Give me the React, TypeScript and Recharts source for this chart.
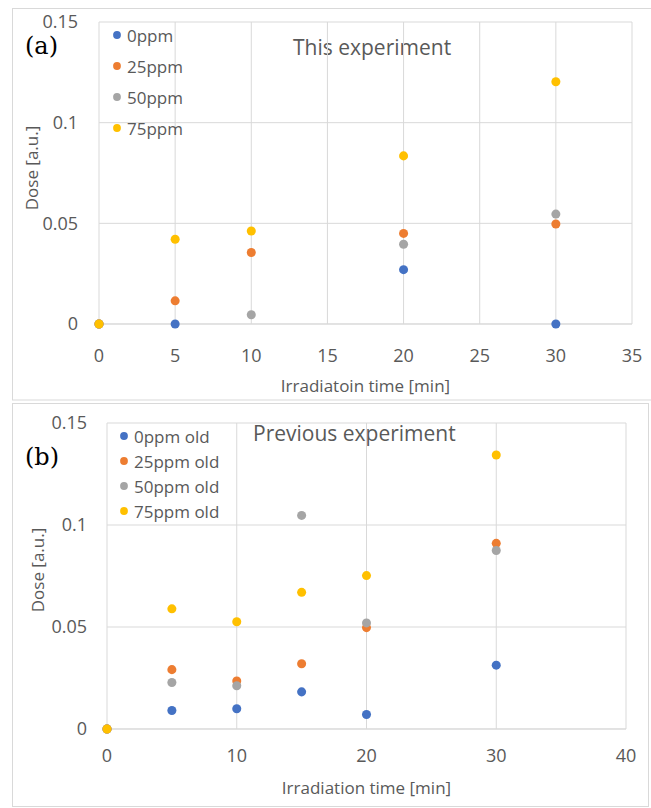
import React from 'react';
import { ScatterChart, Scatter, XAxis, YAxis, CartesianGrid, Legend } from 'recharts';

// Series colours (0, 25, 50, 75 ppm)
const COLORS = ['#4472C4', '#ED7D31', '#A5A5A5', '#FFC000'];
const GRID = '#D9D9D9';
const TEXT = '#595959';
const FONT = '"Open Sans", sans-serif';

// (a) This experiment
const timeA = [0, 5, 10, 20, 30];
const dose0A = [0, 0, null, 0.027, 0];
const dose25A = [0, 0.0115, 0.0355, 0.045, 0.0497];
const dose50A = [0, null, 0.0046, 0.0396, 0.0546];
const dose75A = [0, 0.0421, 0.0462, 0.0835, 0.1203];
const namesA = ['0ppm', '25ppm', '50ppm', '75ppm'];
const xTicksA = [0, 5, 10, 15, 20, 25, 30, 35];

// (b) Previous experiment
const timeB = [0, 5, 10, 15, 20, 30];
const dose0B = [0, 0.0091, 0.0099, 0.0182, 0.0071, 0.0313];
const dose25B = [0, 0.0291, 0.0235, 0.032, 0.0497, 0.091];
const dose50B = [0, 0.0228, 0.0212, 0.1047, 0.052, 0.0875];
const dose75B = [0, 0.0589, 0.0526, 0.067, 0.0752, 0.1343];
const namesB = ['0ppm old', '25ppm old', '50ppm old', '75ppm old'];
const xTicksB = [0, 10, 20, 30, 40];

const yTicks = [0, 0.05, 0.1, 0.15];

type Pt = { x: number; y: number };
const toPoints = (times: number[], doses: (number | null)[]): Pt[] =>
  times.flatMap((t, i) => (doses[i] == null ? [] : [{ x: t, y: doses[i] as number }]));

const seriesA = [dose0A, dose25A, dose50A, dose75A].map((d) => toPoints(timeA, d));
const seriesB = [dose0B, dose25B, dose50B, dose75B].map((d) => toPoints(timeB, d));

const makeLegend = (rowH: number, fontSize: number) => (props: any) => {
  const payload = props.payload || [];
  return (
    <div>
      {payload.map((p: any, i: number) => (
        <div key={i} style={{ display: 'flex', alignItems: 'center', height: rowH }}>
          <svg width={10} height={10} style={{ display: 'block' }}>
            <circle cx={5} cy={5} r={3.9} fill={p.color} />
          </svg>
          <span
            style={{
              marginLeft: 5,
              color: TEXT,
              fontFamily: FONT,
              fontSize,
              lineHeight: 1,
              whiteSpace: 'nowrap',
            }}
          >
            {p.value}
          </span>
        </div>
      ))}
    </div>
  );
};

const yTitle = (dx: number, dy: number) => (props: any) => {
  const vb = props.viewBox || {};
  const cx = vb.x + dx;
  const cy = vb.y + vb.height / 2 + dy;
  return (
    <text
      x={cx}
      y={cy}
      transform={`rotate(-90, ${cx}, ${cy})`}
      textAnchor="middle"
      dominantBaseline="central"
      fill={TEXT}
      fontFamily={FONT}
      fontSize={17}
    >
      Dose [a.u.]
    </text>
  );
};

const xTitle = (text: string, dx: number, baselineFromBottom: number) => (props: any) => {
  const vb = props.viewBox || {};
  return (
    <text
      x={vb.x + vb.width / 2 + dx}
      y={vb.y + vb.height - baselineFromBottom}
      textAnchor="middle"
      fill={TEXT}
      fontFamily={FONT}
      fontSize={17}
    >
      {text}
    </text>
  );
};

type PanelProps = {
  series: Pt[][];
  names: string[];
  xTicks: number[];
  xMax: number;
  height: number;
  margin: { top: number; right: number; bottom: number; left: number };
  yWidth: number;
  xHeight: number;
  yTickMargin: number;
  xTickMargin: number;
  xLabel: string;
  xLabelDx: number;
  xLabelBase: number;
  yLabelDx: number;
  yLabelDy: number;
  legendPos: { left: number; top: number };
  legendRow: number;
};

function Panel(p: PanelProps) {
  return (
    <ScatterChart width={651} height={p.height} margin={p.margin}>
      <CartesianGrid stroke={GRID} strokeWidth={1} />
      <XAxis
        type="number"
        dataKey="x"
        domain={[0, p.xMax]}
        ticks={p.xTicks}
        interval={0}
        tickLine={false}
        tickSize={0}
        tickMargin={p.xTickMargin}
        axisLine={{ stroke: GRID }}
        tick={{ fill: TEXT, fontSize: 18, fontFamily: FONT }}
        height={p.xHeight}
        label={{ content: xTitle(p.xLabel, p.xLabelDx, p.xLabelBase) }}
      />
      <YAxis
        type="number"
        dataKey="y"
        domain={[0, 0.15]}
        ticks={yTicks}
        interval={0}
        tickFormatter={(v: number) => String(v)}
        tickLine={false}
        tickSize={0}
        tickMargin={p.yTickMargin}
        axisLine={false}
        tick={{ fill: TEXT, fontSize: 18, fontFamily: FONT }}
        width={p.yWidth}
        label={{ content: yTitle(p.yLabelDx, p.yLabelDy) }}
      />
      <Legend
        layout="vertical"
        align="center"
        verticalAlign="middle"
        content={makeLegend(p.legendRow, 17)}
        wrapperStyle={{ left: p.legendPos.left, top: p.legendPos.top, width: 'auto', height: 'auto' }}
      />
      {p.series.map((pts, i) => (
        <Scatter
          key={p.names[i]}
          name={p.names[i]}
          data={pts}
          fill={COLORS[i]}
          isAnimationActive={false}
        />
      ))}
    </ScatterChart>
  );
}

export default function App() {
  return (
    <div
      style={{
        position: 'absolute',
        left: 0,
        top: 0,
        width: 651,
        height: 808,
        background: '#fff',
        overflow: 'hidden',
      }}
    >
      <svg width={651} height={808} style={{ position: 'absolute', left: 0, top: 0 }}>
        <rect x={12.5} y={8.5} width={660} height={391.5} fill="none" stroke={GRID} />
        <rect x={12.5} y={403.5} width={636} height={403} fill="none" stroke={GRID} />
        <text x={25} y={54} fontFamily='"DejaVu Serif", serif' fontSize={24} fill="#000">
          (a)
        </text>
        <text x={25} y={465} fontFamily='"DejaVu Serif", serif' fontSize={24} fill="#000">
          (b)
        </text>
        <text x={293} y={55} fontFamily={FONT} fontSize={21} fill={TEXT}>
          This experiment
        </text>
        <text x={253} y={441} fontFamily={FONT} fontSize={21} fill={TEXT}>
          Previous experiment
        </text>
      </svg>

      <div style={{ position: 'absolute', left: 0, top: 0 }}>
        <Panel
          series={seriesA}
          names={namesA}
          xTicks={xTicksA}
          xMax={35}
          height={400}
          margin={{ top: 22, right: 19, bottom: 0, left: 0 }}
          yWidth={99}
          xHeight={76}
          yTickMargin={21}
          xTickMargin={25}
          xLabel="Irradiatoin time [min]"
          xLabelDx={0}
          xLabelBase={8}
          yLabelDx={31}
          yLabelDy={-5}
          legendPos={{ left: 112, top: 19.5 }}
          legendRow={31}
        />
      </div>

      <div style={{ position: 'absolute', left: 0, top: 400 }}>
        <Panel
          series={seriesB}
          names={namesB}
          xTicks={xTicksB}
          xMax={40}
          height={408}
          margin={{ top: 23, right: 25, bottom: 0, left: 0 }}
          yWidth={107}
          xHeight={79}
          yTickMargin={20}
          xTickMargin={20}
          xLabel="Irradiation time [min]"
          xLabelDx={0}
          xLabelBase={14}
          yLabelDx={37}
          yLabelDy={-6}
          legendPos={{ left: 119, top: 23.5 }}
          legendRow={25}
        />
      </div>
    </div>
  );
}
